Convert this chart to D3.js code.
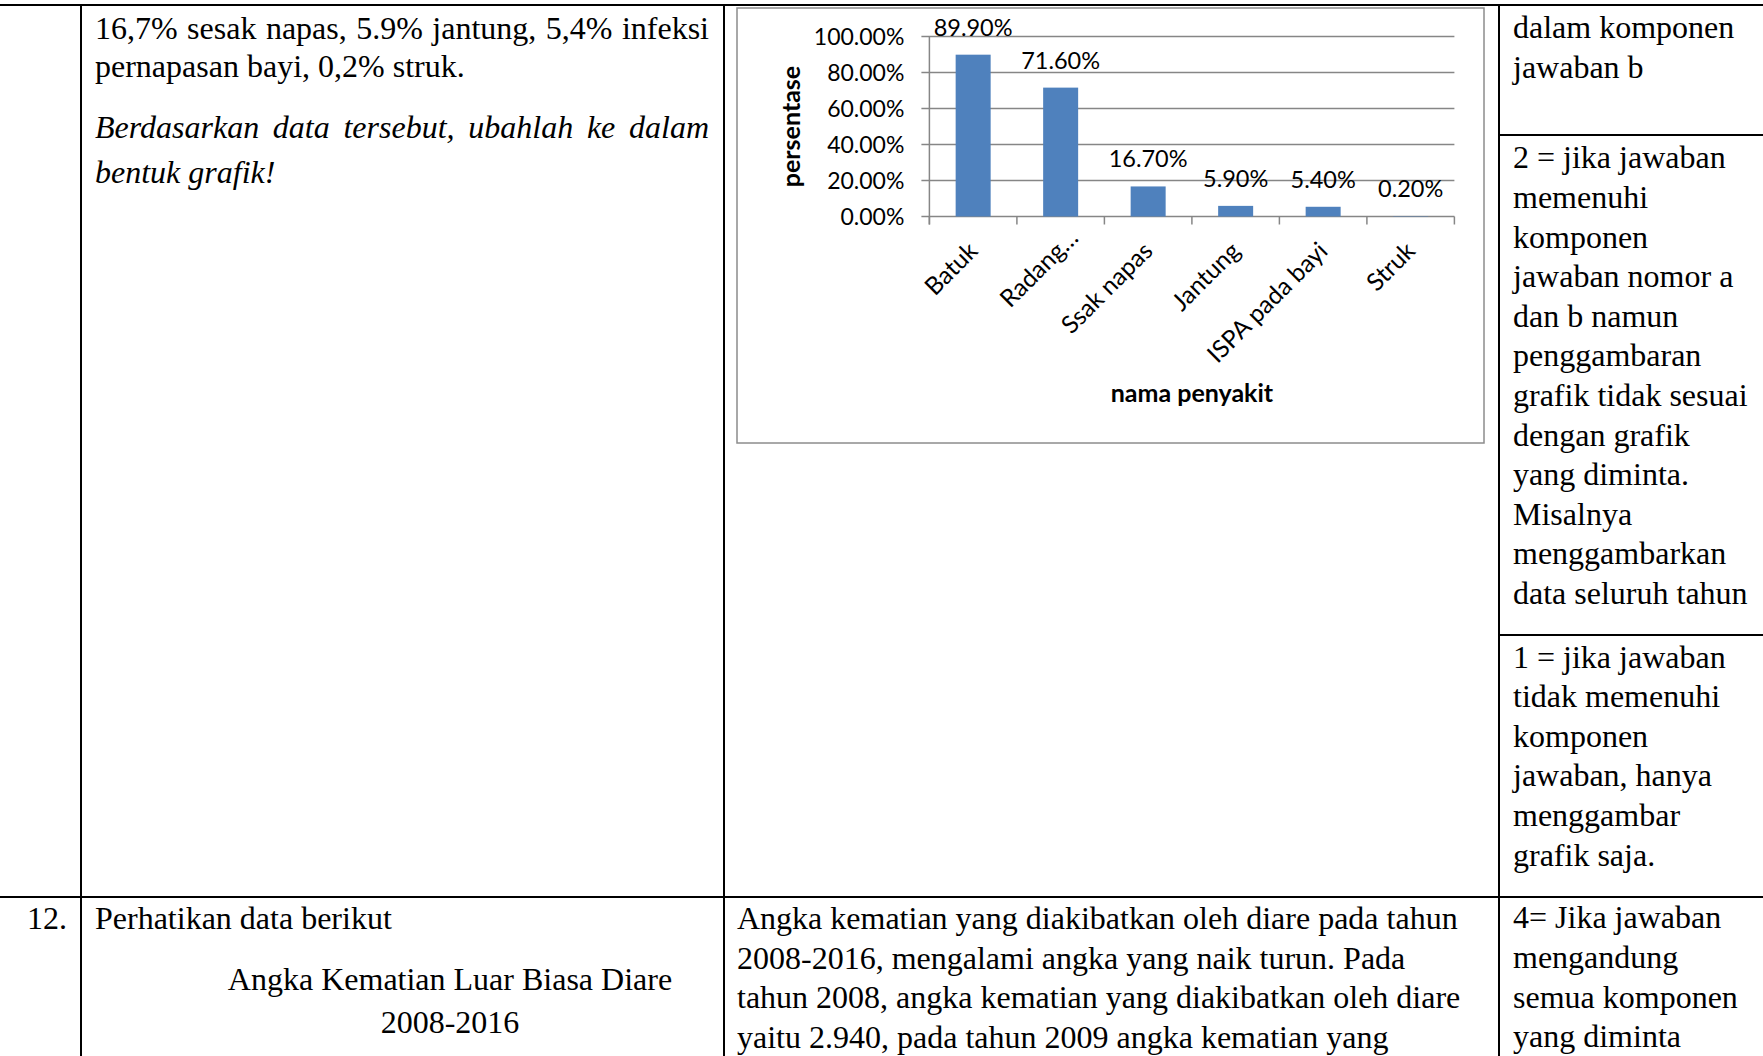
<!DOCTYPE html>
<html>
<head>
<meta charset="utf-8">
<script src="https://cdn.jsdelivr.net/npm/d3@7"></script>
<style>
  html, body { margin: 0; padding: 0; background: #fff; }
  svg { display: block; }
  .doc { font-family: "Liberation Serif", "Times New Roman", serif; font-size: 32px; fill: #000; }
  .chart text { font-family: Lato, "Open Sans", sans-serif; fill: #000; }
</style>
</head>
<body>
<svg id="page" width="1763" height="1056"></svg>
<script>
// Chart data: share of respondents by illness
const categories = ["Batuk", "Radang…", "Ssak napas", "Jantung", "ISPA pada bayi", "Struk"];
const values = [89.9, 71.6, 16.7, 5.9, 5.4, 0.2];
const yTicks = [0, 20, 40, 60, 80, 100];
const yTitle = "persentase";
const xTitle = "nama penyakit";

// Table text, one entry per printed line
const questionLines = ["16,7% sesak napas, 5.9% jantung, 5,4% infeksi", "pernapasan bayi, 0,2% struk."];
const instructionLines = ["Berdasarkan data tersebut, ubahlah ke dalam", "bentuk grafik!"];
const rubricTop = ["dalam komponen", "jawaban b"];
const rubricTwo = ["2 = jika jawaban", "memenuhi", "komponen", "jawaban nomor a", "dan b namun",
  "penggambaran", "grafik tidak sesuai", "dengan grafik", "yang diminta.", "Misalnya",
  "menggambarkan", "data seluruh tahun"];
const rubricOne = ["1 = jika jawaban", "tidak memenuhi", "komponen", "jawaban, hanya", "menggambar", "grafik saja."];
const rubricFour = ["4= Jika jawaban", "mengandung", "semua komponen", "yang diminta"];
const nextNumber = "12.";
const nextQuestion = "Perhatikan data berikut";
const nextTitle = ["Angka Kematian Luar Biasa Diare", "2008-2016"];
const nextAnswer = ["Angka kematian yang diakibatkan oleh diare pada tahun",
  "2008-2016, mengalami angka yang naik turun. Pada",
  "tahun 2008, angka kematian yang diakibatkan oleh diare",
  "yaitu 2.940, pada tahun 2009 angka kematian yang"];

const svg = d3.select("#page");
const W = 1763, H = 1056;
const lineGap = 39.6;

// ---- table grid ----
const grid = svg.append("g").attr("stroke", "#000").attr("stroke-width", 2);
const colX = [81, 724, 1499];
const topY = 5, rowY = 897;
grid.append("line").attr("x1", 0).attr("x2", W).attr("y1", topY).attr("y2", topY);
grid.append("line").attr("x1", 0).attr("x2", W).attr("y1", rowY).attr("y2", rowY);
colX.forEach(x => grid.append("line").attr("x1", x).attr("x2", x).attr("y1", topY).attr("y2", H));
[135, 635].forEach(y => grid.append("line").attr("x1", colX[2]).attr("x2", W).attr("y1", y).attr("y2", y));

const doc = svg.append("g").attr("class", "doc");

function lines(arr, x, y0, gap, opts = {}) {
  return doc.selectAll(null).data(arr).enter().append("text")
    .attr("x", x).attr("y", (d, i) => y0 + i * gap)
    .attr("text-anchor", opts.anchor || "start")
    .style("font-style", opts.italic ? "italic" : "normal")
    .text(d => d);
}

// justify a line between its x and a right edge by widening the word gaps
function justify(node, right) {
  const t = d3.select(node);
  const x = +t.attr("x");
  const natural = node.getComputedTextLength();
  const spaces = (t.text().match(/ /g) || []).length;
  if (spaces) t.attr("word-spacing", (right - x - natural) / spaces);
}

const q = lines(questionLines, 95, 38.5, 38.5);
justify(q.nodes()[0], 709);
const ins = lines(instructionLines, 95, 138, 45, { italic: true });
justify(ins.nodes()[0], 709);

lines(rubricTop, 1513, 38, lineGap);
lines(rubricTwo, 1513, 168.3, lineGap);
lines(rubricOne, 1513, 667.5, lineGap);
lines(rubricFour, 1513, 928.4, lineGap);

lines([nextNumber], 27, 929, lineGap);
lines([nextQuestion], 95, 929, lineGap);
lines(nextTitle, 450, 990, 43, { anchor: "middle" });
lines(nextAnswer, 737, 929, lineGap);

// ---- bar chart ----
const chart = svg.append("g").attr("class", "chart");
chart.append("rect").attr("x", 737).attr("y", 8).attr("width", 747).attr("height", 435)
  .attr("fill", "#fff").attr("stroke", "#8c8c8c").attr("stroke-width", 1.5);

const plot = { left: 929.4, right: 1454.4, top: 36.5, bottom: 216.5 };
const x = d3.scaleBand().domain(categories).range([plot.left, plot.right]).paddingInner(0).paddingOuter(0);
const y = d3.scaleLinear().domain([0, 100]).range([plot.bottom, plot.top]);
const axisColor = "#868686";

// horizontal gridlines with outside tick marks
chart.append("g").selectAll("line").data(yTicks).enter().append("line")
  .attr("x1", plot.left - 8).attr("x2", plot.right)
  .attr("y1", d => y(d)).attr("y2", d => y(d))
  .attr("stroke", axisColor).attr("stroke-width", 1.5);

// y axis labels
chart.append("g").selectAll("text").data(yTicks).enter().append("text")
  .attr("x", plot.left - 25).attr("y", d => y(d)).attr("dy", "0.36em")
  .attr("text-anchor", "end").style("font-size", "23px")
  .text(d => d3.format(".2f")(d) + "%");

// axis lines and category tick marks
chart.append("line").attr("x1", plot.left).attr("x2", plot.left)
  .attr("y1", plot.top).attr("y2", plot.bottom + 8).attr("stroke", axisColor).attr("stroke-width", 1.5);
const bounds = categories.map(c => x(c)).concat([plot.right]);
chart.append("g").selectAll("line").data(bounds).enter().append("line")
  .attr("x1", d => d).attr("x2", d => d).attr("y1", plot.bottom).attr("y2", plot.bottom + 8)
  .attr("stroke", axisColor).attr("stroke-width", 1.5);

// bars
const barW = x.bandwidth() * 0.4;
chart.append("g").selectAll("rect").data(values).enter().append("rect")
  .attr("x", (d, i) => x(categories[i]) + (x.bandwidth() - barW) / 2)
  .attr("y", d => y(d)).attr("width", barW).attr("height", d => y(0) - y(d))
  .attr("fill", "#4F81BD");

// value labels
chart.append("g").selectAll("text").data(values).enter().append("text")
  .attr("x", (d, i) => x(categories[i]) + x.bandwidth() / 2)
  .attr("y", d => y(d) - 19)
  .attr("text-anchor", "middle").style("font-size", "23.5px")
  .text(d => d3.format(".2f")(d) + "%");

// rotated category labels; a truncation mark hangs past the anchor point
const catG = chart.append("g").selectAll("g").data(categories).enter().append("g")
  .attr("transform", d => `translate(${x(d) + x.bandwidth() / 2 + 6},${plot.bottom + 36}) rotate(-45)`)
  .style("font-size", "24.5px");
catG.append("text").attr("text-anchor", "end").text(d => d.replace("…", ""));
catG.filter(d => d.endsWith("…")).append("text").attr("text-anchor", "start").text("…");

// axis titles
chart.append("text")
  .attr("transform", `translate(800,${(plot.top + plot.bottom) / 2}) rotate(-90)`)
  .attr("text-anchor", "middle").style("font-size", "25px").style("font-weight", "bold")
  .text(yTitle);
chart.append("text")
  .attr("x", (plot.left + plot.right) / 2).attr("y", 402)
  .attr("text-anchor", "middle").style("font-size", "25px").style("font-weight", "bold")
  .text(xTitle);
</script>
</body>
</html>
